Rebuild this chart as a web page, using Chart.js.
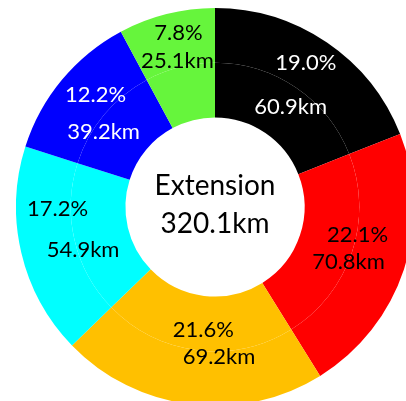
<!DOCTYPE html>
<html>
<head>
<meta charset="utf-8">
<script src="https://cdn.jsdelivr.net/npm/chart.js@4/dist/chart.umd.min.js"></script>
<style>
  html, body { margin: 0; padding: 0; background: #ffffff; width: 406px; height: 401px; overflow: hidden; }
  #wrap { position: absolute; left: 16px; top: 8px; width: 398px; height: 398px; }
</style>
</head>
<body>
<div id="wrap"><canvas id="c"></canvas></div>
<script>
const categories = ['A', 'B', 'C', 'D', 'E', 'F'];
const lengthsKm = [60.9, 70.8, 69.2, 54.9, 39.2, 25.1];
const percentLabels = ['19.0%', '22.1%', '21.6%', '17.2%', '12.2%', '7.8%'];
const kmLabels = ['60.9km', '70.8km', '69.2km', '54.9km', '39.2km', '25.1km'];
const centerLines = ['Extension', '320.1km'];

const segColors = ['#000000', '#ff0000', '#ffc000', '#00ffff', '#0000ff', '#66f53c'];
const textColors = ['#ffffff', '#000000', '#000000', '#000000', '#ffffff', '#000000'];
// label placement inside each arc: [angular fraction, radial fraction]
const pctPlace = [[0.47, 0.74], [0.41, 0.51], [0.48, 0.31], [0.70, 0.62], [0.58, 0.68], [0.58, 0.81]];
const kmPlace  = [[0.54, 0.33], [0.55, 0.50], [0.39, 0.55], [0.42, 0.45], [0.37, 0.41], [0.49, 0.56]];

const FONT = 'Lato, "Open Sans", sans-serif';

const labelPlugin = {
  id: 'arcLabels',
  afterDatasetsDraw(chart) {
    const ctx = chart.ctx;
    const outer = chart.getDatasetMeta(0).data;
    const inner = chart.getDatasetMeta(1).data;
    ctx.save();
    ctx.textAlign = 'center';
    ctx.textBaseline = 'middle';
    outer.forEach((arc, i) => {
      const p = arc.getProps(['x', 'y', 'startAngle', 'endAngle', 'outerRadius'], true);
      const rIn = inner[i].getProps(['innerRadius'], true).innerRadius;
      const put = (txt, place) => {
        const a = p.startAngle + (p.endAngle - p.startAngle) * place[0];
        const r = rIn + (p.outerRadius - rIn) * place[1];
        ctx.fillText(txt, p.x + Math.cos(a) * r, p.y + Math.sin(a) * r);
      };
      ctx.fillStyle = textColors[i];
      ctx.font = '22px ' + FONT;
      put(percentLabels[i], pctPlace[i]);
      put(kmLabels[i], kmPlace[i]);
    });
    const a0 = outer[0];
    ctx.fillStyle = '#000000';
    ctx.font = '28px ' + FONT;
    ctx.fillText(centerLines[0], a0.x, a0.y - 21);
    ctx.fillText(centerLines[1], a0.x, a0.y + 17);
    ctx.restore();
  }
};

new Chart(document.getElementById('c'), {
  type: 'doughnut',
  data: {
    labels: categories,
    datasets: [
      { data: lengthsKm, backgroundColor: segColors, borderWidth: 0 },
      { data: lengthsKm, backgroundColor: segColors, borderWidth: 0 }
    ]
  },
  options: {
    responsive: true,
    maintainAspectRatio: false,
    animation: false,
    cutout: '45%',
    layout: { padding: 0 },
    plugins: { legend: { display: false }, tooltip: { enabled: false } }
  },
  plugins: [labelPlugin]
});
</script>
</body>
</html>
